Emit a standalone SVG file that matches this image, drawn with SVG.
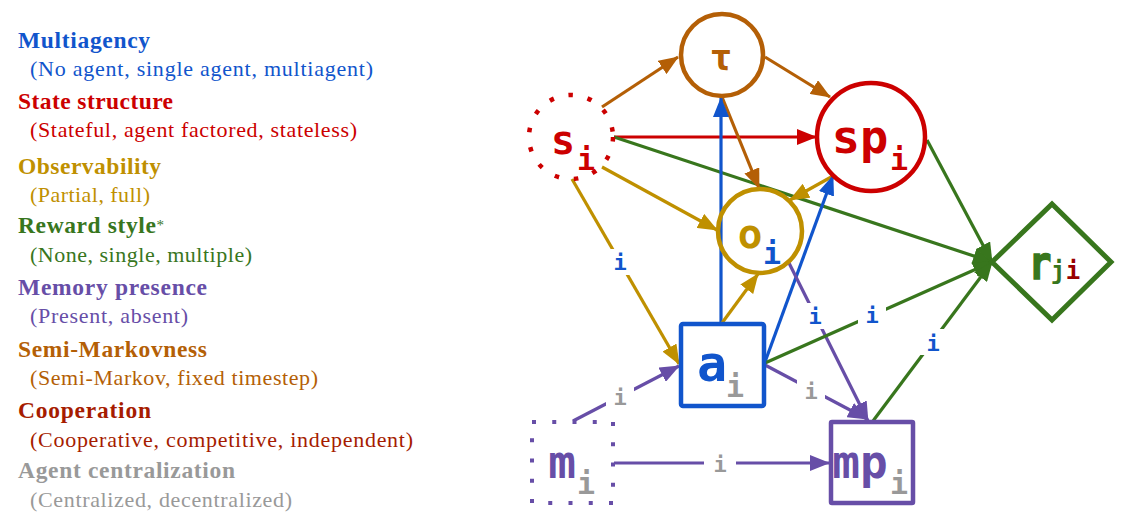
<svg xmlns="http://www.w3.org/2000/svg" width="1126" height="532" viewBox="0 0 1126 532">
<style>
.h{font-family:"Liberation Serif",serif;font-weight:bold;font-size:23.5px}
.s{font-family:"Liberation Serif",serif;font-size:22px}
.lbl{font-family:"DejaVu Sans Mono",monospace;font-weight:bold;text-anchor:middle}
.el{font-family:"DejaVu Sans Mono",monospace;font-weight:bold;font-size:22px;text-anchor:middle}
.e{fill:none;stroke-width:3.2}
.bg{fill:#fff}
.blue{fill:#1155cc}.red{fill:#cc0000}.gold{fill:#bf9000}.green{fill:#38761d}.purple{fill:#674ea7}.brown{fill:#b45f06}.dred{fill:#a61c00}.gray{fill:#999999}
</style>
<defs>
<marker id="a-brown" viewBox="0 0 20 16" refX="19" refY="8" markerWidth="20" markerHeight="16" markerUnits="userSpaceOnUse" orient="auto"><path d="M0,0 L20,8 L0,16 z" fill="#b45f06"/></marker>
<marker id="a-red" viewBox="0 0 20 16" refX="19" refY="8" markerWidth="20" markerHeight="16" markerUnits="userSpaceOnUse" orient="auto"><path d="M0,0 L20,8 L0,16 z" fill="#cc0000"/></marker>
<marker id="a-green" viewBox="0 0 20 16" refX="19" refY="8" markerWidth="20" markerHeight="16" markerUnits="userSpaceOnUse" orient="auto"><path d="M0,0 L20,8 L0,16 z" fill="#38761d"/></marker>
<marker id="a-gold" viewBox="0 0 20 16" refX="19" refY="8" markerWidth="20" markerHeight="16" markerUnits="userSpaceOnUse" orient="auto"><path d="M0,0 L20,8 L0,16 z" fill="#bf9000"/></marker>
<marker id="a-blue" viewBox="0 0 20 16" refX="19" refY="8" markerWidth="20" markerHeight="16" markerUnits="userSpaceOnUse" orient="auto"><path d="M0,0 L20,8 L0,16 z" fill="#1155cc"/></marker>
<marker id="a-purple" viewBox="0 0 20 16" refX="19" refY="8" markerWidth="20" markerHeight="16" markerUnits="userSpaceOnUse" orient="auto"><path d="M0,0 L20,8 L0,16 z" fill="#674ea7"/></marker>
</defs>
<rect width="1126" height="532" fill="#fff"/>

<g id="legend">
<text class="h blue" x="18" y="48" textLength="132" lengthAdjust="spacing">Multiagency</text>
<text class="s blue" x="30" y="76" textLength="343" lengthAdjust="spacing">(No agent, single agent, multiagent)</text>
<text class="h red" x="18" y="109" textLength="155" lengthAdjust="spacing">State structure</text>
<text class="s red" x="30" y="137" textLength="327" lengthAdjust="spacing">(Stateful, agent factored, stateless)</text>
<text class="h gold" x="18" y="174" textLength="143" lengthAdjust="spacing">Observability</text>
<text class="s gold" x="30" y="202" textLength="120" lengthAdjust="spacing">(Partial, full)</text>
<text class="h green" x="18" y="233" textLength="146" lengthAdjust="spacing">Reward style<tspan font-size="15" font-weight="normal" dy="-3">*</tspan></text>
<text class="s green" x="30" y="262" textLength="222" lengthAdjust="spacing">(None, single, multiple)</text>
<text class="h purple" x="18" y="295" textLength="189" lengthAdjust="spacing">Memory presence</text>
<text class="s purple" x="30" y="323" textLength="158" lengthAdjust="spacing">(Present, absent)</text>
<text class="h brown" x="18" y="357" textLength="189" lengthAdjust="spacing">Semi-Markovness</text>
<text class="s brown" x="30" y="385" textLength="288" lengthAdjust="spacing">(Semi-Markov, fixed timestep)</text>
<text class="h dred" x="18" y="418" textLength="133" lengthAdjust="spacing">Cooperation</text>
<text class="s dred" x="30" y="447" textLength="383" lengthAdjust="spacing">(Cooperative, competitive, independent)</text>
<text class="h gray" x="18" y="478" textLength="217" lengthAdjust="spacing">Agent centralization</text>
<text class="s gray" x="30" y="507" textLength="262" lengthAdjust="spacing">(Centralized, decentralized)</text>
</g>

<g id="connectors">
<path class="e" stroke="#b45f06" marker-end="url(#a-brown)" d="M602,107 L678,57"/>
<path class="e" stroke="#b45f06" marker-end="url(#a-brown)" d="M765,57 L830,97"/>
<path class="e" stroke="#cc0000" marker-end="url(#a-red)" d="M614,137 L816,137"/>
<path class="e" stroke="#38761d" marker-end="url(#a-green)" d="M614,137 L992,262"/>
<path class="e" stroke="#bf9000" marker-end="url(#a-gold)" d="M602,167 L717,230"/>
<path class="e" stroke="#bf9000" marker-end="url(#a-gold)" d="M572,179 L679,364"/>
<path class="e" stroke="#b45f06" marker-end="url(#a-brown)" d="M722,97 L759,188"/>
<path class="e" stroke="#1155cc" marker-end="url(#a-blue)" d="M721,323 L721,98"/>
<path class="e" stroke="#bf9000" marker-end="url(#a-gold)" d="M833,176 L790,200"/>
<path class="e" stroke="#1155cc" marker-end="url(#a-blue)" d="M765,362 L833,176"/>
<path class="e" stroke="#bf9000" marker-end="url(#a-gold)" d="M722,323 L758,274"/>
<path class="e" stroke="#674ea7" marker-end="url(#a-purple)" d="M788,261 L868,421"/>
<path class="e" stroke="#38761d" marker-end="url(#a-green)" d="M765,363 L992,262"/>
<path class="e" stroke="#38761d" marker-end="url(#a-green)" d="M873,421 L992,262"/>
<path class="e" stroke="#38761d" marker-end="url(#a-green)" d="M927,140 L992,262"/>
<path class="e" stroke="#674ea7" marker-end="url(#a-purple)" d="M765,365 L867,419"/>
<path class="e" stroke="#674ea7" marker-end="url(#a-purple)" d="M573,421 L679,366"/>
<path class="e" stroke="#674ea7" marker-end="url(#a-purple)" d="M614,463 L829,463"/>
<rect class="bg" x="606" y="249" width="28" height="26"/>
<text class="el blue" x="620" y="270">i</text>
<rect class="bg" x="801" y="303" width="28" height="26"/>
<text class="el blue" x="815" y="324">i</text>
<rect class="bg" x="858" y="302" width="28" height="26"/>
<text class="el blue" x="872" y="323">i</text>
<rect class="bg" x="919" y="329" width="28" height="26"/>
<text class="el blue" x="933" y="351">i</text>
<rect class="bg" x="797" y="378" width="28" height="26"/>
<text class="el gray" x="811" y="399">i</text>
<rect class="bg" x="606" y="384" width="28" height="26"/>
<text class="el gray" x="620" y="405">i</text>
<rect class="bg" x="704" y="450" width="32" height="26"/>
<text class="el gray" x="720" y="472">i</text>
</g>

<g id="tau">
<circle cx="722" cy="55" r="41" fill="none" stroke="#b45f06" stroke-width="4.5"/>
<text class="lbl brown" x="721" y="71" font-size="38">τ</text>
</g>
<g id="s_i">
<circle cx="571" cy="137" r="42" fill="none" stroke="#cc0000" stroke-width="4.5" stroke-dasharray="4.5 15"/>
<text class="lbl red" x="563" y="154" font-size="40">s</text>
<text class="lbl red" x="586" y="170" font-size="30">i</text>
</g>
<g id="sp_i">
<circle cx="871" cy="137" r="54" fill="none" stroke="#cc0000" stroke-width="4.5"/>
<text class="lbl red" x="860" y="153" font-size="47">sp</text>
<text class="lbl red" x="899" y="170" font-size="30">i</text>
</g>
<g id="o_i">
<circle cx="760" cy="231" r="42" fill="none" stroke="#bf9000" stroke-width="4.5"/>
<text class="lbl gold" x="750" y="248" font-size="41">o</text>
<text class="lbl blue" x="772" y="264" font-size="30">i</text>
</g>
<g id="r_ji">
<path d="M992,262 L1052,204 L1111,262 L1052,320 Z" fill="none" stroke="#38761d" stroke-width="5"/>
<text class="lbl green" transform="translate(1040,279) scale(0.8,1)" x="0" y="0" font-size="47" stroke="#38761d" stroke-width="1.6">r</text>
<text class="lbl green" x="1058" y="279" font-size="24">j</text>
<text class="lbl" fill="#990000" x="1073" y="279" font-size="24">i</text>
</g>
<g id="a_i">
<rect x="681" y="324" width="83" height="82" rx="2" fill="none" stroke="#1155cc" stroke-width="4.5"/>
<text class="lbl blue" x="712" y="381" font-size="50">a</text>
<text class="lbl gray" x="735" y="397" font-size="30">i</text>
</g>
<g id="m_i">
<rect x="532" y="422" width="81" height="81" fill="none" stroke="#674ea7" stroke-width="4" stroke-dasharray="4 16.25"/>
<text class="lbl purple" x="562" y="478" font-size="46">m</text>
<text class="lbl gray" x="586" y="494" font-size="30">i</text>
</g>
<g id="mp_i">
<rect x="831" y="422" width="82" height="81" rx="1" fill="none" stroke="#674ea7" stroke-width="4.5"/>
<text class="lbl purple" x="860" y="478" font-size="46">mp</text>
<text class="lbl gray" x="899" y="494" font-size="30">i</text>
</g>
</svg>
